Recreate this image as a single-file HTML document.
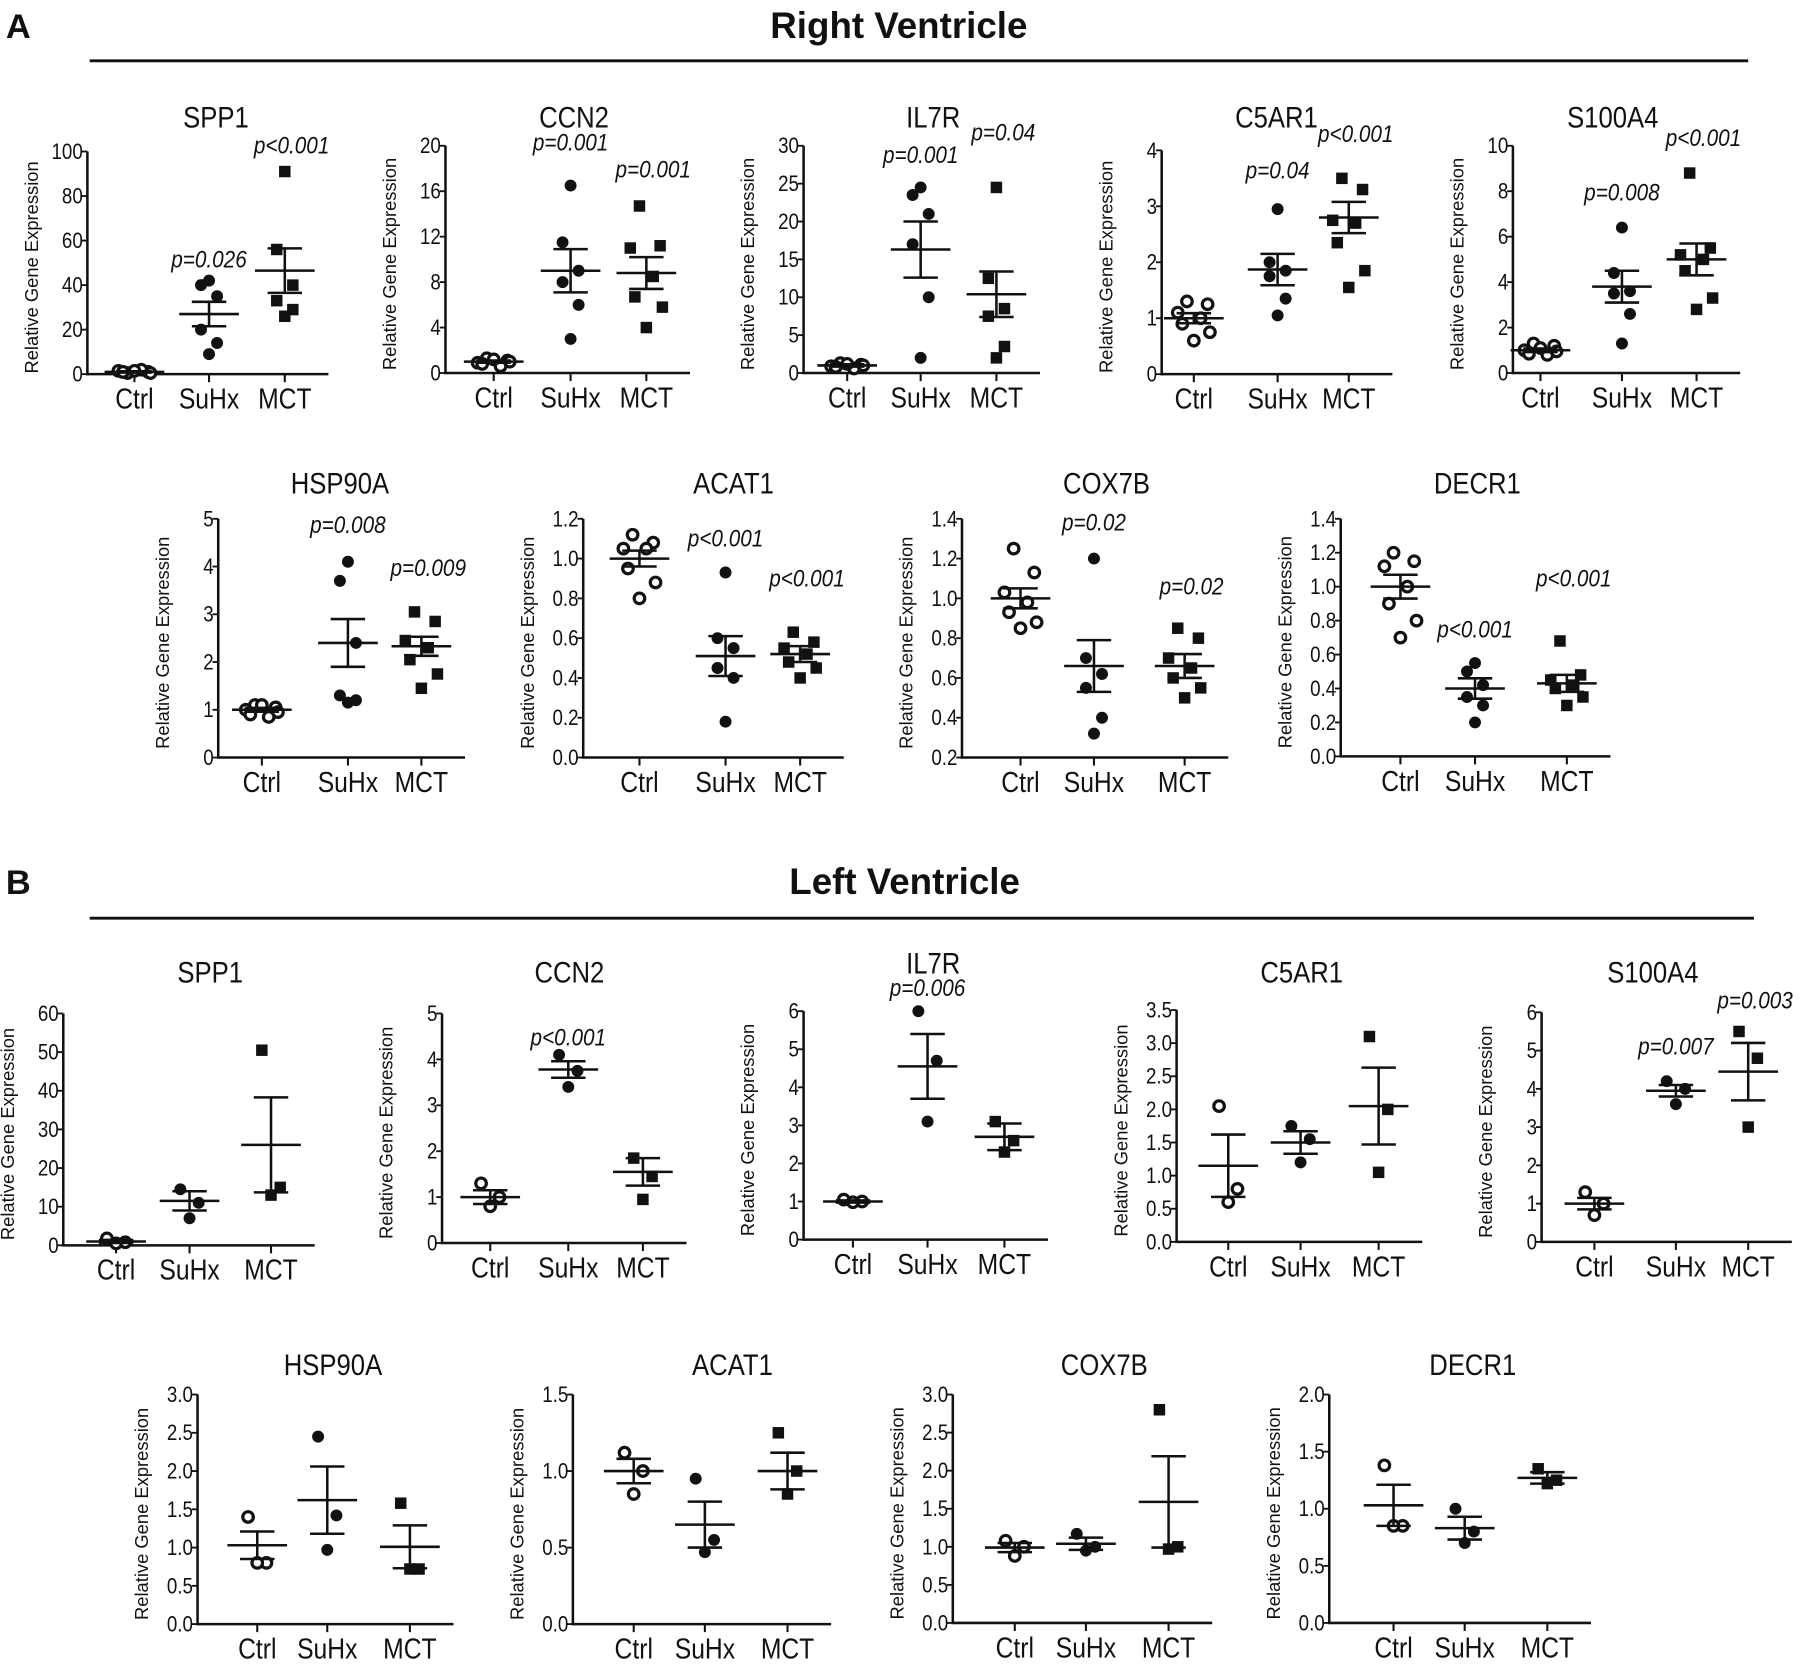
<!DOCTYPE html>
<html><head><meta charset="utf-8"><style>
html,body{margin:0;padding:0;background:#fff;}
svg{display:block;}
text{font-family:"Liberation Sans",Arial,sans-serif;fill:#111;}
</style></head><body>
<svg id="fig" width="1800" height="1670" viewBox="0 0 1568 1455" xmlns="http://www.w3.org/2000/svg">
<text x="5" y="33" font-size="30" font-weight="bold">A</text>
<text x="783" y="33" font-size="32" font-weight="bold" text-anchor="middle">Right Ventricle</text>
<line x1="78" y1="53" x2="1523" y2="53" stroke="#111" stroke-width="2.5"/>
<text x="5" y="779" font-size="30" font-weight="bold">B</text>
<text x="788" y="779" font-size="32" font-weight="bold" text-anchor="middle">Left Ventricle</text>
<line x1="78" y1="800" x2="1528" y2="800" stroke="#111" stroke-width="2.5"/>
<g id="plots"></g>
</svg>
<script>
// ---- data (top level) ----
const categories = ["Ctrl","SuHx","MCT"];
const genes = ["SPP1","CCN2","IL7R","C5AR1","S100A4","HSP90A","ACAT1","COX7B","DECR1","SPP1","CCN2","IL7R","C5AR1","S100A4","HSP90A","ACAT1","COX7B","DECR1"];
const yMin = [0,0,0,0,0,0,0,0.2,0, 0,0,0,0,0,0,0,0,0];
const yMax = [100,20,30,4,10,5,1.2,1.4,1.4, 60,5,6,3.5,6,3,1.5,3,2];
const yStep = [20,4,5,1,2,1,0.2,0.2,0.2, 10,1,1,0.5,1,0.5,0.5,0.5,0.5];
const yDec = [0,0,0,0,0,0,1,1,1, 0,0,0,1,0,1,1,1,1];
const ctrlValues = [
 [0.5,1,1.5,2,1,0.5,1.5],[1.3,1.1,0.9,0.6,0.8,1.0,1.2],[1.3,1.1,0.9,0.6,0.8,1.0,1.2],
 [1.3,1.25,1.1,1.0,0.9,0.75,0.6],[1.3,1.2,1.0,0.8,0.85,0.95,1.1],[1.1,1.05,1.0,0.85,0.9,0.95,1.1],
 [1.12,1.08,1.05,1.05,0.95,0.88,0.8],[1.25,1.13,1.03,0.98,0.93,0.88,0.85],[1.2,1.15,1.12,1.0,0.9,0.8,0.7],
 [1.8,0.8,0.5],[1.3,1.0,0.8],[1.05,1.0,0.98],[2.05,0.8,0.6],[1.3,1.0,0.7],
 [1.4,0.8,0.8],[1.12,1.0,0.85],[1.08,1.0,0.88],[1.38,0.85,0.85]];
const suhxValues = [
 [42,40,35,20,14,9],[16.5,11.5,9,8,6,3],[24.5,23.5,21,17,10,2],[2.95,2.0,1.85,1.75,1.35,1.05],
 [6.4,4.4,3.6,3.5,2.6,1.3],[4.1,3.7,2.4,1.3,1.2,1.15],[0.93,0.6,0.55,0.45,0.4,0.18],
 [1.2,0.7,0.62,0.55,0.4,0.32],[0.55,0.5,0.42,0.35,0.3,0.2],
 [14.5,11,7],[4.1,3.75,3.4],[6.0,4.7,3.1],[1.75,1.55,1.2],[4.2,4.0,3.6],
 [2.45,1.42,0.97],[0.95,0.55,0.47],[1.17,1.0,0.95],[1.0,0.8,0.7]];
const mctValues = [
 [91,56,40,33,29,26],[14.7,11.2,11,8.5,6.7,5.8,4],[24.5,12.5,8.5,7.5,3.5,2],[3.5,3.3,2.75,2.7,2.35,1.85,1.55],
 [8.8,5.5,5.2,5.0,4.5,3.3,2.8],[3.05,2.85,2.45,2.3,2.05,1.75,1.45],[0.63,0.58,0.55,0.52,0.48,0.45,0.4],
 [0.85,0.8,0.7,0.65,0.6,0.55,0.5],[0.68,0.48,0.45,0.42,0.4,0.35,0.3],
 [50.5,15,13],[1.85,1.45,0.95],[3.1,2.6,2.3],[3.1,2.0,1.05],[5.5,4.8,3.0],
 [1.58,0.72,0.72],[1.25,1.0,0.85],[2.8,1.0,0.97],[1.35,1.25,1.22]];
const meanValues = [
 [1,27,46.5],[1,9,8.8],[1,16.3,10.4],[1,1.87,2.8],[1,3.8,5.0],[1,2.4,2.33],[1,0.51,0.52],[1,0.66,0.66],[1,0.4,0.43],
 [1,11.5,26],[1,3.78,1.55],[1,4.55,2.7],[1.15,1.5,2.05],[1,3.95,4.45],[1.03,1.62,1.01],[1,0.65,1.0],[0.99,1.04,1.59],[1.03,0.83,1.27]];
const semValues = [
 [0.3,5.5,10],[0.1,1.9,1.4],[0.15,3.7,3],[0.09,0.28,0.28],[0.08,0.7,0.7],[0.04,0.5,0.2],[0.04,0.1,0.04],[0.05,0.13,0.06],[0.07,0.06,0.05],
 [0.4,2.5,12.3],[0.15,0.18,0.3],[0.03,0.85,0.35],[0.47,0.17,0.58],[0.15,0.15,0.75],[0.18,0.44,0.28],[0.08,0.15,0.12],[0.06,0.08,0.6],[0.18,0.1,0.05]];
const pSuhxLabel = ["p=0.026","p=0.001","p=0.001","p=0.04","p=0.008","p=0.008","p<0.001","p=0.02","p<0.001","","p<0.001","p=0.006","","p=0.007","","","",""];
const pSuhxAt = [48,19.6,27.7,3.5,7.6,4.7,1.06,1.34,0.7,0,4.3,6.4,0,4.9,0,0,0,0];
const pMctLabel = ["p<0.001","p=0.001","p=0.04","p<0.001","p<0.001","p=0.009","p<0.001","p=0.02","p<0.001","","","","","p=0.003","","","",""];
const pMctAt = [99,17.2,30.7,4.15,10,3.8,0.86,1.02,1.0,0,0,0,0,6.1,0,0,0,0];

// ---- layout (pixel geometry, display coords) ----
const axX = [76,388,700,1012,1318, 190,508,838,1168, 55,385,700,1025,1343, 172,499,830,1158];
const axTop = [132,127,127,131,127, 452,452,452,452, 883,883,881,880,882, 1215,1215,1215,1215];
const axBot = [326,325,325,326,325, 660,660,660,659, 1085,1083,1080,1082,1082, 1415,1415,1414,1414];
const catX = [[117,182,248],[430,497,563],[738,802,868],[1040,1113,1175],[1342,1413,1478],
 [228,303,367],[557,632,697],[889,953,1032],[1220,1285,1365],
 [101,165,236],[427,495,560],[743,808,875],[1070,1133,1201],[1389,1460,1523],
 [224,285,357],[552,614,686],[884,946,1018],[1214,1276,1348]];
const titleX = [188,500,813,1112,1405, 296,639,964,1287, 183,496,813,1134,1440, 290,638,962,1283];
const titleY = [111,111,111,111,111, 430,430,430,430, 856,856,848,856,856, 1198,1198,1198,1198];

const NS="http://www.w3.org/2000/svg";
const root=document.getElementById('plots');
function mk(tag,attrs,parent){const e=document.createElementNS(NS,tag);for(const k in attrs)e.setAttribute(k,attrs[k]);(parent||root).appendChild(e);return e;}
function txt(parent,x,y,s,size,anchor,extra){
  const sx=0.86;
  const t=mk('text',Object.assign({x:(x/sx).toFixed(1),y:y,'font-size':size,'text-anchor':anchor||'middle',transform:'scale('+sx+',1)'},extra||{}),parent);
  t.textContent=s;return t;
}
function jitter(n,i){
  if(n===3) return [-8,8,0][i];
  if(n===7) return [-6,12,-14,6,-10,14,0][i];
  return [0,-7,7,-7,7,0][i%6];
}
for(let p=0;p<genes.length;p++){
  const g=mk('g',{});
  
  
  const y=v=>axBot[p]-(v-yMin[p])/(yMax[p]-yMin[p])*(axBot[p]-axTop[p]);
  const x0=axX[p], xEnd=catX[p][2]+38;
  const tt=txt(g,titleX[p],titleY[p],genes[p],26,'middle');
  
  
  const ya=mk('line',{x1:x0,y1:axTop[p],x2:x0,y2:axBot[p]+1,stroke:'#111','stroke-width':2.2},g);
  
  
  const xa=mk('line',{x1:x0-1,y1:axBot[p],x2:xEnd,y2:axBot[p],stroke:'#111','stroke-width':2.2},g);
  
  
  const nT=Math.round((yMax[p]-yMin[p])/yStep[p]);
  for(let k=0;k<=nT;k++){
    const v=yMin[p]+k*yStep[p], yy=y(v);
    mk('line',{x1:x0-5,y1:yy,x2:x0,y2:yy,stroke:'#111','stroke-width':1.6},g);
    const tl=txt(g,x0-4,yy+6.5,v.toFixed(yDec[p]),19,'end');
    
    
  }
  const yl=mk('text',{x:0,y:0,'font-size':16,'text-anchor':'middle',transform:'translate('+(x0-43)+','+((axTop[p]+axBot[p])/2+4)+') rotate(-90)'},g);
  yl.textContent='Relative Gene Expression';
  
  
  const groups=[ctrlValues[p],suhxValues[p],mctValues[p]];
  for(let c=0;c<3;c++){
    const cx=catX[p][c];
    mk('line',{x1:cx,y1:axBot[p],x2:cx,y2:axBot[p]+7,stroke:'#111','stroke-width':1.8},g);
    const cl=txt(g,cx,axBot[p]+30,categories[c],25,'middle');
    
    
    const vals=groups[c];
    for(let i=0;i<vals.length;i++){
      const px=cx+jitter(vals.length,i), py=y(vals[i]);
      let m;
      if(c===0) m=mk('circle',{cx:px,cy:py,r:4.6,fill:'#fff',stroke:'#111','stroke-width':2.8},g);
      else if(c===1) m=mk('circle',{cx:px,cy:py,r:5.2,fill:'#111'},g);
      else m=mk('rect',{x:px-5,y:py-5,width:10,height:10,fill:'#111'},g);
      
      
    }
    const mu=meanValues[p][c], se=semValues[p][c];
    const eb=mk('g',{stroke:'#111','stroke-width':2.2},g);
    
    
    mk('line',{x1:cx-26,y1:y(mu),x2:cx+26,y2:y(mu)},eb);
    mk('line',{x1:cx,y1:y(mu+se),x2:cx,y2:y(mu-se)},eb);
    mk('line',{x1:cx-15,y1:y(mu+se),x2:cx+15,y2:y(mu+se)},eb);
    mk('line',{x1:cx-15,y1:y(mu-se),x2:cx+15,y2:y(mu-se)},eb);
  }
  if(pSuhxLabel[p]){
    const t=txt(g,catX[p][1],y(pSuhxAt[p]),pSuhxLabel[p],21,'middle',{'font-style':'italic'});
    
    
  }
  if(pMctLabel[p]){
    const t=txt(g,catX[p][2]+6,y(pMctAt[p]),pMctLabel[p],21,'middle',{'font-style':'italic'});
    
    
  }
}
</script>
</body></html>
